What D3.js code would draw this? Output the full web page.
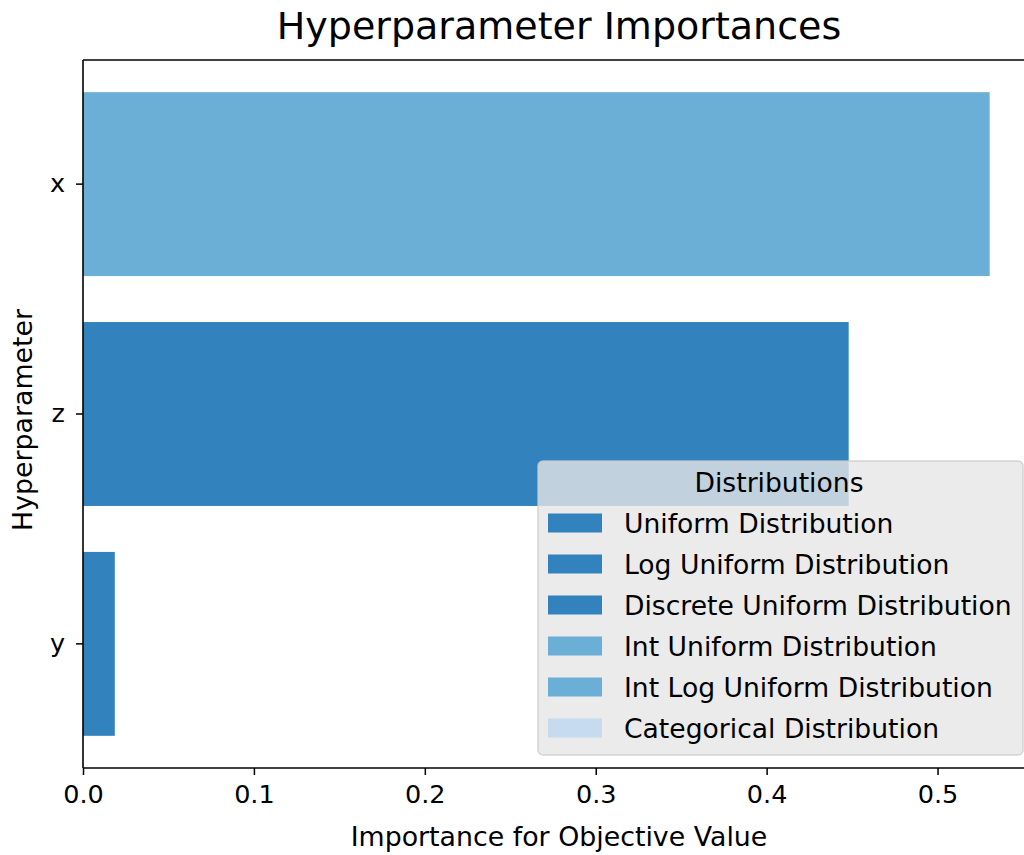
<!DOCTYPE html>
<html>
<head>
<meta charset="utf-8">
<script src="https://cdn.jsdelivr.net/npm/d3@7"></script>
<style>
  html, body { margin: 0; padding: 0; background: #fff; }
  svg { display: block; font-family: "DejaVu Sans", sans-serif; }
</style>
</head>
<body>
<svg id="chart" width="1024" height="855"></svg>
<script>
// ---- data ----
const params = ["x", "z", "y"];
const importances = [0.5305, 0.448, 0.0186];
const paramDistributions = ["Int Uniform Distribution", "Uniform Distribution", "Uniform Distribution"];
const xTicks = [0.0, 0.1, 0.2, 0.3, 0.4, 0.5];
const legendLabels = [
  "Uniform Distribution",
  "Log Uniform Distribution",
  "Discrete Uniform Distribution",
  "Int Uniform Distribution",
  "Int Log Uniform Distribution",
  "Categorical Distribution"
];
const legendColors = ["#3182bd", "#3182bd", "#3182bd", "#6baed6", "#6baed6", "#c6dbef"];
const titleText = "Hyperparameter Importances";
const xLabel = "Importance for Objective Value";
const yLabel = "Hyperparameter";
const legendTitle = "Distributions";

// ---- layout ----
const svg = d3.select("#chart");
const mLeft = 83, mTop = 60, mBottom = 768, mRight = 1035;
const xMax = d3.max(importances) * 1.05;

const x = d3.scaleLinear().domain([0, xMax]).range([mLeft, mRight]);
const y = d3.scaleBand().domain(params).range([mTop, mBottom]).paddingInner(0.2).paddingOuter(0.14);
const color = d3.scaleOrdinal().domain(legendLabels).range(legendColors);

// bars
svg.append("g").selectAll("rect")
  .data(params.map((p, i) => ({ p, v: importances[i], d: paramDistributions[i] })))
  .join("rect")
  .attr("x", x(0))
  .attr("y", d => y(d.p))
  .attr("width", d => x(d.v) - x(0))
  .attr("height", y.bandwidth())
  .attr("fill", d => color(d.d));

// x axis
const xAxis = svg.append("g")
  .attr("transform", `translate(0,${mBottom})`)
  .call(d3.axisBottom(x).tickValues(xTicks).tickFormat(d3.format(".1f")).tickSize(7).tickPadding(10));
xAxis.select(".domain").remove();
xAxis.selectAll(".tick line").attr("stroke", "#000").attr("stroke-width", 1.5);
xAxis.selectAll(".tick text").attr("font-size", 25.5).attr("fill", "#000")
  .attr("font-family", "DejaVu Sans");

// y axis
const yAxis = svg.append("g")
  .attr("transform", `translate(${mLeft},0)`)
  .call(d3.axisLeft(y).tickSize(7).tickPadding(11));
yAxis.select(".domain").remove();
yAxis.selectAll(".tick line").attr("stroke", "#000").attr("stroke-width", 1.5);
yAxis.selectAll(".tick text").attr("font-size", 25.5).attr("fill", "#000")
  .attr("font-family", "DejaVu Sans");

// spines
const spines = svg.append("g").attr("stroke", "#000").attr("stroke-width", 1.6).attr("fill", "none");
spines.append("line").attr("x1", mLeft).attr("x2", mLeft).attr("y1", mTop).attr("y2", mBottom);
spines.append("line").attr("x1", mLeft).attr("x2", mRight).attr("y1", mBottom).attr("y2", mBottom);
spines.append("line").attr("x1", mLeft).attr("x2", mRight).attr("y1", mTop).attr("y2", mTop);
spines.append("line").attr("x1", mRight).attr("x2", mRight).attr("y1", mTop).attr("y2", mBottom);

// title
svg.append("text")
  .attr("x", (mLeft + mRight) / 2).attr("y", 39)
  .attr("text-anchor", "middle").attr("font-size", 38).attr("fill", "#000")
  .text(titleText);

// axis labels
svg.append("text")
  .attr("x", (mLeft + mRight) / 2).attr("y", 846)
  .attr("text-anchor", "middle").attr("font-size", 26.8).attr("fill", "#000")
  .text(xLabel);
svg.append("text")
  .attr("transform", `translate(32,${(mTop + mBottom) / 2 + 6}) rotate(-90)`)
  .attr("text-anchor", "middle").attr("font-size", 26.8).attr("fill", "#000")
  .text(yLabel);

// legend
const lg = svg.append("g").attr("transform", "translate(538,461)");
lg.append("rect")
  .attr("width", 485).attr("height", 294).attr("rx", 5)
  .attr("fill", "#e6e6e6").attr("fill-opacity", 0.8)
  .attr("stroke", "#cccccc").attr("stroke-opacity", 0.8).attr("stroke-width", 1.5);
lg.append("text")
  .attr("x", 241).attr("y", 31)
  .attr("text-anchor", "middle").attr("font-size", 26.6).attr("fill", "#000")
  .text(legendTitle);
const rowY = d3.scaleLinear().domain([0, legendLabels.length - 1]).range([62, 267]);
const rows = lg.selectAll("g.row").data(legendLabels).join("g").attr("class", "row")
  .attr("transform", (d, i) => `translate(0,${rowY(i)})`);
rows.append("rect").attr("x", 10).attr("y", -9.5).attr("width", 54).attr("height", 19)
  .attr("fill", d => color(d));
rows.append("text").attr("x", 86).attr("y", 9.5).attr("font-size", 26.6).attr("fill", "#000")
  .text(d => d);
</script>
</body>
</html>
